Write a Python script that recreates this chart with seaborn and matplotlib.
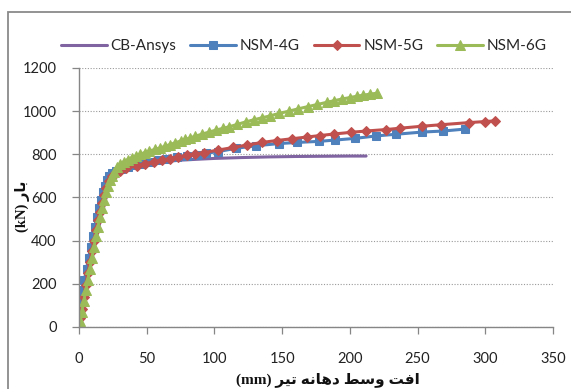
import matplotlib
matplotlib.use("Agg")
import matplotlib.pyplot as plt
import seaborn as sns
import pandas as pd
from matplotlib.patches import Rectangle

# ---- data: mid-span deflection (mm) vs. load (kN) ----
cb_x = [0, 2, 4, 6, 8, 10, 12, 14, 16, 18, 20, 22, 25, 30, 40, 50, 60, 75, 90,
        100, 120, 140, 160, 180, 200, 212]
cb_y = [0, 65, 135, 205, 270, 330, 390, 445, 500, 550, 600, 645, 690, 722, 745,
        757, 765, 773, 778, 781, 785, 788, 790, 791, 792, 792]

g4_x = [0, 0.3, 0.8, 2.3, 4.0, 5.6, 7.1, 8.6, 10.1, 11.6, 13.1, 14.6, 16.1,
        17.6, 19.1, 20.6, 22.3, 24.3, 27, 31, 36, 41, 46, 52, 58, 65, 72, 80,
        87, 94, 103, 116, 131, 148, 161, 177, 189, 204, 219, 234, 253, 269, 285]
g4_y = [0, 50, 120, 170, 220, 270, 320, 370, 420, 465, 510, 550, 590, 625, 655,
        680, 700, 712, 722, 732, 742, 750, 757, 765, 772, 779, 786, 793, 799,
        805, 813, 828, 840, 850, 855, 860, 866, 874, 885, 893, 903, 908, 917]

g5_x = [0, 1, 2, 3.5, 5, 6.5, 8, 9.5, 11, 12.5, 14, 15.5, 17, 18.5, 20, 22, 24,
        27, 30, 35, 43, 49, 55, 61, 67, 73, 80, 86, 92, 103, 114, 124, 135, 146,
        157, 168, 178, 188, 201, 212, 227, 237, 253, 267, 288, 300, 307]
g5_y = [0, 40, 85, 140, 195, 250, 300, 350, 400, 450, 495, 535, 575, 610, 645,
        675, 700, 715, 725, 735, 748, 757, 765, 772, 780, 787, 795, 801, 808,
        820, 832, 843, 855, 864, 872, 880, 887, 894, 902, 908, 915, 921, 930,
        937, 947, 952, 955]

g6_x = [0, 1, 2, 3.5, 5, 6.5, 8, 9.5, 11, 12.5, 14, 15.5, 17, 18.5, 20, 21.5,
        23, 24.5, 26, 28, 30.5, 33, 36, 39, 42, 45, 48.5, 52, 56, 60, 63.5, 67,
        71, 75, 78.5, 82, 86, 91, 96, 101, 106, 111, 117, 123, 129, 135, 141,
        148, 155, 162, 169, 176, 183, 188, 194, 200, 205, 210, 215, 220]
g6_y = [0, 30, 70, 120, 170, 220, 270, 320, 370, 420, 465, 510, 550, 590, 625,
        655, 680, 700, 718, 740, 755, 766, 776, 785, 793, 800, 808, 815, 823,
        830, 837, 845, 853, 862, 869, 876, 884, 894, 903, 912, 920, 928, 939,
        950, 960, 969, 978, 990, 1000, 1011, 1021, 1031, 1041, 1048, 1056,
        1063, 1069, 1074, 1079, 1083]

series_names = ["CB-Ansys", "NSM-4G", "NSM-5G", "NSM-6G"]
x_ticks = [0, 50, 100, 150, 200, 250, 300, 350]
y_ticks = [0, 200, 400, 600, 800, 1000, 1200]

# Persian axis titles, written in shaped presentation forms (visual order)
y_title = "(kN) \uFEAD\uFE8E\uFE91"
x_unit = "(mm)"
x_title = ("\uFEAE\uFEF4\uFE97 \uFEEA\uFEE7\uFE8E\uFEEB\uFEA9 "
           "\uFEC2\uFEB3\uFEED \uFE96\uFED3\uFE8D")

sns.set_theme(style="white")
plt.rcParams['font.family'] = ['Lato', 'DejaVu Sans']

fig = plt.figure(figsize=(5.71, 3.89), dpi=100)
ax = fig.add_axes([0.1384, 0.1594, 0.830, 0.6658])

# outer chart frame
fig.patches.append(Rectangle((8 / 571, -0.2), 1.2, 1.2 - 12 / 389,
                             transform=fig.transFigure, fill=False,
                             edgecolor="#8a8a8a", linewidth=1.3, zorder=0))

styles = [
    dict(color="#8064A2", marker=None),
    dict(color="#4F81BD", marker="s", markersize=5.2),
    dict(color="#C0504D", marker="D", markersize=5.2),
    dict(color="#9BBB59", marker="^", markersize=6.5),
]
xs = [cb_x, g4_x, g5_x, g6_x]
ys = [cb_y, g4_y, g5_y, g6_y]

for name, x, y, st in zip(series_names, xs, ys, styles):
    df = pd.DataFrame({"x": x, "y": y})
    kw = dict(color=st["color"], linewidth=2.2, label=name)
    if st["marker"]:
        kw.update(marker=st["marker"], markersize=st["markersize"],
                  markeredgecolor=st["color"], markerfacecolor=st["color"])
    sns.lineplot(data=df, x="x", y="y", ax=ax, estimator=None, sort=False,
                 legend=False, **kw)

ax.set_xlim(0, 350)
ax.set_ylim(0, 1200)
ax.set_xticks(x_ticks)
ax.set_yticks(y_ticks)
ax.set_xlabel("")
ax.set_ylabel("")

ax.yaxis.grid(True, linestyle=(0, (1, 1.5)), color="#9a9a9a", linewidth=0.8)
ax.xaxis.grid(False)
for s in ["top", "right"]:
    ax.spines[s].set_visible(False)
for s in ["left", "bottom"]:
    ax.spines[s].set_color("#868686")
    ax.spines[s].set_linewidth(1.0)

ax.tick_params(axis="x", direction="out", length=5, width=0.9,
               color="#868686", pad=13, labelsize=10.5, labelcolor="#222222")
ax.tick_params(axis="y", direction="out", length=5, width=0.9,
               color="#868686", pad=11, labelsize=10.5, labelcolor="#222222")
ax.tick_params(bottom=True, left=True)

handles, labels = ax.get_legend_handles_labels()
fig.legend(handles, labels, loc="center", bbox_to_anchor=(0.532, 0.881),
           ncol=4, frameon=False, fontsize=11, handlelength=3.0,
           handletextpad=0.25, columnspacing=0.9, numpoints=1)

fig.text(22 / 571, 0.47, y_title, rotation=90, ha="center", va="center",
         fontsize=10.5, fontweight="bold", color="#111111",
         family=["Liberation Serif", "DejaVu Sans"])
fig.text(0.575, 0.005, x_unit + " " + x_title, ha="center", va="bottom",
         fontsize=11, fontweight="bold", color="#111111",
         family=["Liberation Serif", "DejaVu Sans"])

fig.savefig("out.png", dpi=100)
